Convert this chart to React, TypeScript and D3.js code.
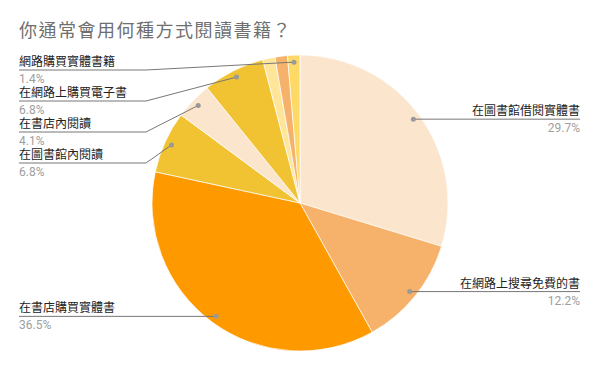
import * as d3 from 'd3'

// responses per option (74 respondents), in drawing order starting at 12 o'clock
const categories = [
  '在圖書館借閱實體書',
  '在網路上搜尋免費的書',
  '在書店購買實體書',
  '在圖書館內閱讀',
  '在書店內閱讀',
  '在網路上購買電子書',
  null,
  null,
  '網路購買實體書籍'
]
const counts = [22, 9, 27, 5, 3, 5, 1, 1, 1]
const colors = ['#fce5cd', '#f6b26b', '#ff9900', '#f1c232', '#fce5cd', '#f1c232', '#ffe599', '#f6b26b', '#ffd966']

const title = '你通常會用何種方式閱讀書籍？'

export default function App() {
  const width = 600
  const height = 371
  const cx = 300
  const cy = 203
  const radius = 148
  const dotRadius = 141
  const labelLeft = 19
  const labelRight = 580
  const bendX = 146
  const rowGap = 31
  const minLineY = 70

  const total = d3.sum(counts)
  const pct = d3.format('.1%')
  const pie = d3.pie<number>().sort(null).value(d => d)
  const arcs = pie(counts)
  const arc = d3.arc<d3.PieArcDatum<number>>().innerRadius(0).outerRadius(radius)
  const dotArc = d3.arc<d3.PieArcDatum<number>>().innerRadius(dotRadius).outerRadius(dotRadius)

  const labels = arcs
    .map((a, i) => {
      const [dx, dy] = dotArc.centroid(a)
      const mid = (a.startAngle + a.endAngle) / 2
      return { i, name: categories[i], value: counts[i], x: cx + dx, y: cy + dy, right: mid < Math.PI, lineY: cy + dy }
    })
    .filter(l => l.name)

  // stack the left-hand labels from the top so they don't overlap
  const left = labels.filter(l => !l.right).sort((a, b) => a.y - b.y)
  let prev = -Infinity
  left.forEach(l => {
    l.lineY = Math.max(l.y, prev + rowGap, minLineY)
    prev = l.lineY
  })

  const font = "Roboto, 'Noto Sans CJK TC', sans-serif"

  return (
    <svg width={width} height={height} style={{ position: 'absolute', left: 0, top: 0, background: '#fff' }} fontFamily={font}>
      <text x={labelLeft} y={37} fontSize={18} letterSpacing={1.5} fill="#6f6f6f">{title}</text>
      <g transform={`translate(${cx},${cy})`}>
        {arcs.map((a, i) => (
          <path key={i} d={arc(a)!} fill={colors[i]} stroke="#fff" strokeWidth={0.7} />
        ))}
      </g>
      {labels.map(l => {
        const points = l.right
          ? [[l.x, l.lineY], [labelRight, l.lineY]]
          : l.lineY === l.y
            ? [[l.x, l.y], [labelLeft, l.lineY]]
            : [[l.x, l.y], [bendX, l.lineY], [labelLeft, l.lineY]]
        const tx = l.right ? labelRight : labelLeft
        const anchor = l.right ? 'end' : 'start'
        return (
          <g key={l.i}>
            <path d={d3.line()(points as [number, number][])!} fill="none" stroke="#777" strokeWidth={1} />
            <circle cx={l.x} cy={l.y} r={2.5} fill="#999" />
            <text x={tx} y={l.lineY - 4} fontSize={12} fill="#222" textAnchor={anchor}>{l.name}</text>
            <text x={tx} y={l.lineY + 13} fontSize={12} fill="#9e9e9e" textAnchor={anchor}>{pct(l.value / total)}</text>
          </g>
        )
      })}
    </svg>
  )
}
